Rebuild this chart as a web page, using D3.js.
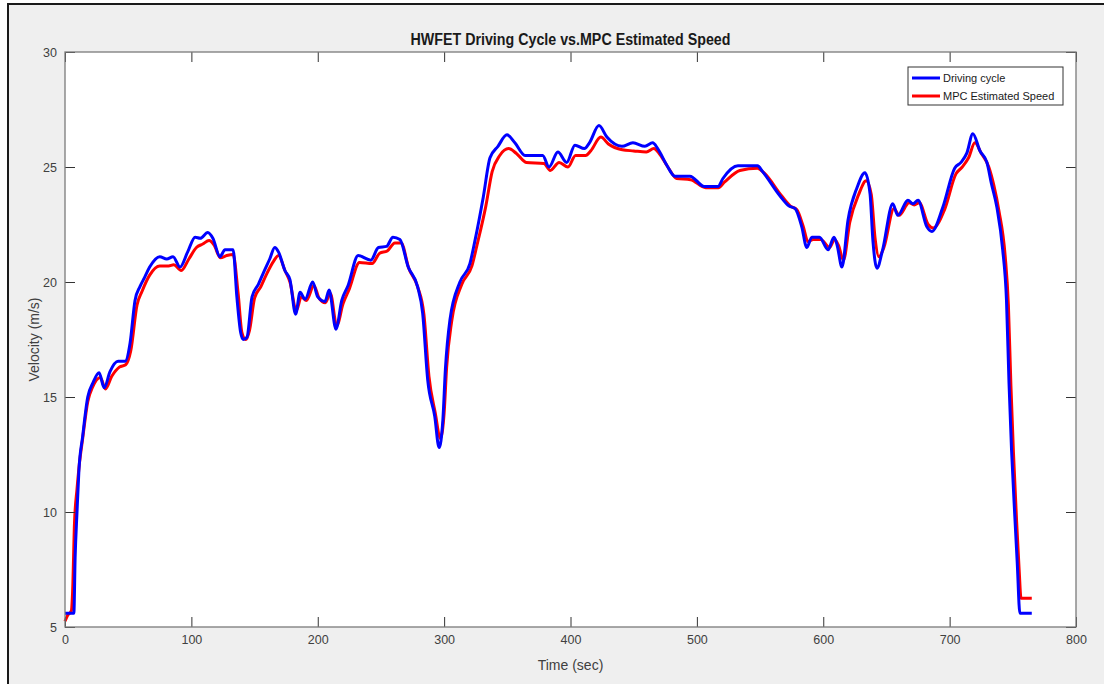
<!DOCTYPE html>
<html>
<head>
<meta charset="utf-8">
<script src="https://cdn.jsdelivr.net/npm/d3@7"></script>
<style>
  html, body { margin: 0; padding: 0; background: #fff; }
  svg { display: block; }
  text { font-family: "Liberation Sans", Arial, sans-serif; }
</style>
</head>
<body>
<script>
// Driving cycle (blue): [time s, speed m/s]
const drivingCycle = [
  [0,5.6],[7,5.6],[8,8.0],[9.5,10],[11,11.8],[14,13.3],[18,15],[22,15.6],[27,16.05],[31,15.4],
  [35.6,16.1],[42,16.55],[47.5,16.55],[51.5,17.35],[55.4,19.2],[59.3,19.8],[63,20.2],[67,20.65],
  [75,21.1],[80.5,21.0],[85.5,21.1],[91,20.65],[97,21.3],[103,21.95],[107,21.9],[113,22.15],
  [117,21.9],[122.6,21.1],[126.6,21.4],[133,21.4],[136,19.35],[139,17.8],[141,17.5],[144,17.6],
  [148,19.35],[153,19.9],[157,20.4],[162,21.0],[166,21.5],[169,21.3],[174,20.5],[178,20.1],
  [182.5,18.6],[186,19.55],[190,19.25],[196,20.0],[200,19.35],[205.7,19.15],[209,19.65],
  [214.4,17.95],[219,19.2],[224,19.85],[232,21.15],[242,20.95],[248,21.5],[254.5,21.55],
  [259.5,21.95],[265,21.85],[271.6,20.65],[279,19.8],[283,18.65],[287,15.75],[292.6,14.15],
  [296,12.8],[299,14.0],[301,16.2],[304.6,18.35],[312.5,20.0],[320.4,20.8],[324.4,21.8],
  [331,23.7],[336.3,25.4],[342.6,25.9],[349.7,26.4],[356,26.05],[364,25.5],[378,25.5],[383,25.0],
  [390,25.65],[397,25.2],[403.5,25.95],[411,25.8],[415,26.05],[422.5,26.8],[428.8,26.3],
  [440.7,25.9],[449.4,26.05],[458.9,25.9],[465,26.05],[469,25.8],[476,25.1],[482.6,24.6],
  [494.5,24.6],[506,24.15],[516.6,24.15],[520.6,24.5],[532.5,25.05],[548,25.05],[552,24.8],
  [565.7,23.75],[573,23.3],[577.6,23.2],[583,22.4],[587,21.5],[591,21.95],[597,21.95],
  [603.8,21.4],[608.5,21.95],[611,21.6],[614.8,20.65],[619.6,22.7],[626.7,24.1],[633,24.75],
  [637,23.85],[639.3,21.8],[642.5,20.6],[647,21.4],[655,23.4],[659,22.9],[667,23.55],[671,23.4],
  [675,23.55],[682,22.4],[686,22.2],[694.6,23.25],[704,24.95],[709,25.2],[713.6,25.6],
  [718.4,26.45],[724,25.7],[729.5,25.2],[733,24.3],[737.4,23.25],[742,21.4],[745,19.2],
  [747,15.6],[749,12.7],[751.6,9.8],[753.5,7.8],[755.6,5.6],[765,5.6]
];

// MPC estimated speed (red)
const mpcSpeed = [
  [0,5.25],[2,5.5],[5,5.7],[6,6.5],[7.5,9.5],[9.5,11.0],[11,11.9],[14,13.2],[18,14.8],[22,15.45],
  [28,15.85],[32,15.35],[37,15.9],[43,16.3],[48,16.4],[52,17.0],[57,19.0],[61,19.6],[67,20.3],
  [75,20.7],[82,20.7],[86,20.75],[92,20.5],[98,21.0],[104,21.5],[109,21.65],[114,21.8],[118,21.6],
  [123,21.05],[128,21.15],[133,21.2],[137,19.5],[140,17.8],[143,17.5],[146,17.9],[150,19.3],
  [155,19.8],[160,20.4],[165,20.9],[169,21.15],[174,20.5],[178,20.0],[183,18.75],[187,19.35],
  [191,19.2],[197,19.85],[201,19.3],[206,19.1],[210,19.5],[215,18.1],[220,19.05],[225,19.7],
  [233,20.85],[243,20.8],[249,21.25],[255,21.35],[261,21.7],[266,21.7],[272,20.6],[279,19.8],
  [284,18.6],[288,15.9],[293,14.3],[297,13.2],[300,14.3],[302,16.3],[306,18.3],[314,19.9],
  [322,20.7],[326,21.6],[333,23.3],[338,24.8],[344,25.5],[351,25.8],[357,25.6],[365,25.2],
  [379,25.15],[384,24.85],[391,25.2],[398,25.0],[404,25.5],[412,25.5],[416,25.7],[424,26.3],
  [430,26.0],[441,25.75],[450,25.7],[460,25.65],[466,25.8],[470,25.6],[477,25.0],[484,24.5],
  [495,24.45],[507,24.1],[517,24.1],[522,24.35],[534,24.85],[548,24.95],[553,24.75],[567,23.75],
  [574,23.3],[579,23.15],[584,22.45],[588,21.75],[592,21.85],[598,21.85],[605,21.5],[609,21.85],
  [612,21.6],[616,20.95],[621,22.6],[628,23.8],[634,24.4],[638,23.8],[641,21.9],[644,21.1],
  [648,21.5],[656,23.2],[660,22.9],[668,23.45],[672,23.35],[676,23.45],[683,22.5],[687,22.35],
  [696,23.15],[705,24.7],[710,25.0],[715,25.4],[720,26.05],[725,25.6],[731,25.0],[735,24.2],
  [739,23.1],[744,21.1],[746.5,19.0],[748.5,15.5],[750.5,12.6],[753,9.6],[755,7.5],[756.5,6.25],
  [765,6.25]
];

const xTicks = [0, 100, 200, 300, 400, 500, 600, 700, 800];
const yTicks = [5, 10, 15, 20, 25, 30];
const seriesNames = ["Driving cycle", "MPC Estimated Speed"];
const seriesColors = ["#0000ff", "#ff0000"];

const width = 1104, height = 684;
const plot = {left: 65, right: 1076, top: 52, bottom: 627};

const svg = d3.select("body").append("svg").attr("width", width).attr("height", height);

// figure background + frame
svg.append("rect").attr("x", 8).attr("y", 4).attr("width", width - 8).attr("height", height - 4)
   .attr("fill", "#efefef");
svg.append("path").attr("d", `M8,${height} L8,4 L${width},4`)
   .attr("fill", "none").attr("stroke", "#1a1a1a").attr("stroke-width", 2);

// Scales
const x = d3.scaleLinear().domain([0, 800]).range([plot.left, plot.right]);
const y = d3.scaleLinear().domain([5, 30]).range([plot.bottom, plot.top]);

svg.append("rect")
   .attr("x", plot.left).attr("y", plot.top)
   .attr("width", plot.right - plot.left).attr("height", plot.bottom - plot.top)
   .attr("fill", "#fff");

// Lines
const line = d3.line().x(d => x(d[0])).y(d => y(d[1])).curve(d3.curveMonotoneX);
const lines = svg.append("g").attr("class", "lines");
[mpcSpeed, drivingCycle].forEach((data, i) => {
  lines.append("path").datum(data)
       .attr("d", line)
       .attr("fill", "none")
       .attr("stroke", i === 0 ? seriesColors[1] : seriesColors[0])
       .attr("stroke-width", 3)
       .attr("stroke-linejoin", "round");
});

// Axes (ticks inside, box on)
const axisColor = "#7a7a7a", labelColor = "#404040";
const styleAxis = g => {
  g.select(".domain").remove();
  g.selectAll(".tick line").attr("stroke", "#333");
  g.selectAll(".tick text").attr("fill", labelColor).style("font-size", "12.5px");
};
svg.append("g").attr("transform", `translate(0,${plot.bottom})`)
   .call(d3.axisBottom(x).tickValues(xTicks).tickSizeInner(-10).tickSizeOuter(0).tickPadding(8))
   .call(styleAxis);
svg.append("g").attr("transform", `translate(0,${plot.top})`)
   .call(d3.axisTop(x).tickValues(xTicks).tickSizeInner(-10).tickSizeOuter(0).tickFormat(""))
   .call(styleAxis);
svg.append("g").attr("transform", `translate(${plot.left},0)`)
   .call(d3.axisLeft(y).tickValues(yTicks).tickSizeInner(-10).tickSizeOuter(0).tickPadding(8))
   .call(styleAxis);
svg.append("g").attr("transform", `translate(${plot.right},0)`)
   .call(d3.axisRight(y).tickValues(yTicks).tickSizeInner(-10).tickSizeOuter(0).tickFormat(""))
   .call(styleAxis);

svg.append("rect")
   .attr("x", plot.left).attr("y", plot.top)
   .attr("width", plot.right - plot.left).attr("height", plot.bottom - plot.top)
   .attr("fill", "none").attr("stroke", axisColor).attr("stroke-width", 1.3);

// Title + labels
svg.append("text")
   .attr("x", (plot.left + plot.right) / 2).attr("y", 45)
   .attr("text-anchor", "middle")
   .style("font-family", "'Liberation Sans Narrow', 'Liberation Sans', Arial, sans-serif")
   .style("font-weight", "bold").style("font-size", "16px").attr("fill", "#1a1a1a")
   .attr("textLength", 320).attr("lengthAdjust", "spacingAndGlyphs")
   .text("HWFET Driving Cycle vs.MPC Estimated Speed");

svg.append("text")
   .attr("x", (plot.left + plot.right) / 2).attr("y", 670)
   .attr("text-anchor", "middle").attr("fill", labelColor).style("font-size", "14px")
   .text("Time (sec)");

svg.append("text")
   .attr("transform", `translate(39,${(plot.top + plot.bottom) / 2}) rotate(-90)`)
   .attr("text-anchor", "middle").attr("fill", labelColor).style("font-size", "14px")
   .text("Velocity (m/s)");

// Legend
const legend = svg.append("g").attr("transform", "translate(908,67)");
legend.append("rect").attr("width", 155).attr("height", 38)
      .attr("fill", "#fff").attr("stroke", "#333").attr("stroke-width", 1);
seriesNames.forEach((name, i) => {
  const ly = 11 + i * 18;
  legend.append("line").attr("x1", 4).attr("x2", 32).attr("y1", ly).attr("y2", ly)
        .attr("stroke", seriesColors[i]).attr("stroke-width", 3);
  legend.append("text").attr("x", 35).attr("y", ly).attr("dy", "0.35em")
        .style("font-size", "11px").attr("fill", "#1a1a1a").text(name);
});
</script>
</body>
</html>
